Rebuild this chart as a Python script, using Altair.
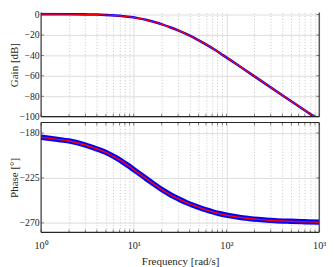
import altair as alt
import pandas as pd

# ---- data ----
freq_gain = [1, 2, 3, 4, 5, 6.26, 7.7, 9.3, 11.3, 13.8, 17, 20.5, 25, 30.5, 38.7,
             48, 60, 75, 92.5, 130, 195, 415, 880, 1000]
gain_db = [0.4, 0.3, 0.15, -0.05, -0.45, -1.0, -1.68, -2.5, -3.77, -5.42, -7.6, -9.9,
           -12.65, -15.75, -20.0, -24.3, -29.2, -34.5, -40.0, -48.9, -59.8, -80.0,
           -100.0, -103.4]

freq_phase = [1, 1.5, 2, 3, 4, 5, 6.2, 7.4, 8.7, 10, 11.8, 13.8, 16.5, 20.5, 25, 30.5,
              37, 45, 55, 67, 82, 100, 150, 220, 330, 490, 700, 1000]
phase_deg = [-184.3, -186.4, -188.0, -192.0, -196.0, -199.4, -204.0, -208.2, -212.6,
             -216.7, -221.5, -226.1, -231.2, -237.2, -242.0, -246.1, -249.75, -252.8,
             -255.8, -258.2, -260.5, -262.3, -264.9, -266.5, -267.7, -268.4, -268.9,
             -269.3]

x_ticks = [1, 2, 3, 4, 5, 6, 7, 8, 9, 10, 20, 30, 40, 50, 60, 70, 80, 90,
           100, 200, 300, 400, 500, 600, 700, 800, 900, 1000]
x_labels = {1: "10⁰", 10: "10¹", 100: "10²", 1000: "10³"}
gain_ticks = [-100, -80, -60, -40, -20, 0]
phase_ticks = [-270, -225, -180]
gain_domain = [-100, 1.9]
phase_domain = [-279.5, -169.5]

# ---- styling ----
W = 286
HG = 107
HP = 113
FONT = "Liberation Serif"
INK = "#262626"
BLUE = "#0000ff"
RED = "#ff0000"
TK = 3  # inward tick length

major_test = "datum.value == 1 || datum.value == 10 || datum.value == 100 || datum.value == 1000"
label_expr = " : ".join(
    [f"datum.value == {k} ? '{v}'" for k, v in x_labels.items()]
) + " : ''"

gain_df = pd.DataFrame({"f": freq_gain, "v": gain_db})
phase_df = pd.DataFrame({"f": freq_phase, "v": phase_deg})
xt_df = pd.DataFrame({"f": x_ticks})
one_df = pd.DataFrame({"k": [0]})


def x_enc(show_labels):
    common = dict(
        values=x_ticks,
        grid=True,
        gridColor={"condition": {"test": major_test, "value": "#dcdcdc"}, "value": "#c4c4c4"},
        gridDash={"condition": {"test": major_test, "value": []}, "value": [1, 2]},
        gridWidth=1,
        ticks=False,
        domain=False,
        labelOverlap=False,
        labelFlush=False,
        labelBound=False,
    )
    if show_labels:
        axis = alt.Axis(labelExpr=label_expr, labelPadding=9, labelFontSize=10.5,
                        titlePadding=5, title="Frequency [rad/s]", **common)
    else:
        axis = alt.Axis(labels=False, title=None, **common)
    return alt.X("f:Q", scale=alt.Scale(type="log", domain=[1, 1000], nice=False), axis=axis)


def y_enc(domain, values, title):
    return alt.Y(
        "v:Q",
        scale=alt.Scale(domain=domain, nice=False, zero=False),
        axis=alt.Axis(values=values, grid=True, gridColor="#dcdcdc", gridWidth=1,
                      ticks=False, domain=False, labelPadding=2, titlePadding=0,
                      title=title),
    )


def panel(df, domain, yvals, title, H, show_x, blue_w, red_w, top_frame):
    X = x_enc(show_x)
    Y = y_enc(domain, yvals, title)
    blue = alt.Chart(df).mark_line(color=BLUE, strokeWidth=blue_w, clip=True,
                                   interpolate="monotone").encode(x=X, y=Y)
    red = alt.Chart(df).mark_line(color=RED, strokeWidth=red_w, clip=True,
                                  interpolate="monotone").encode(x=X, y=Y)
    tick_x = alt.Chart(xt_df).mark_tick(orient="vertical", size=TK, thickness=0.8,
                                        color=INK)
    yt_df = pd.DataFrame({"v": yvals})
    tick_y = alt.Chart(yt_df).mark_tick(orient="horizontal", size=TK, thickness=0.8,
                                        color=INK)
    frame = alt.Chart(one_df).mark_rule(color=INK, strokeWidth=1.1)
    layers = [
        tick_x.encode(x=X, y=alt.value(H - TK / 2)),
        tick_y.encode(y=Y, x=alt.value(TK / 2)),
        tick_y.encode(y=Y, x=alt.value(W - TK / 2)),
        blue,
        red,
        frame.encode(x=alt.value(0), y=alt.value(0), y2=alt.value(H)),
        frame.encode(x=alt.value(W), y=alt.value(0), y2=alt.value(H)),
        frame.encode(x=alt.value(0), x2=alt.value(W), y=alt.value(H)),
    ]
    if top_frame:
        layers.append(tick_x.encode(x=X, y=alt.value(TK / 2)))
        layers.append(frame.encode(x=alt.value(0), x2=alt.value(W), y=alt.value(0)))
    return alt.layer(*layers).properties(width=W, height=H)


top = panel(gain_df, gain_domain, gain_ticks, "Gain [dB]", HG, False, 2.6, 1.2, False)
bottom = panel(phase_df, phase_domain, phase_ticks, "Phase [°]", HP, True, 5.5, 1.5, True)

chart = alt.vconcat(
    top, bottom, spacing=6, bounds="flush",
    padding={"left": 0, "top": -3, "right": 0, "bottom": 0},
).configure_view(
    strokeWidth=0
).configure_axis(
    labelFont=FONT, titleFont=FONT, labelColor=INK, titleColor=INK,
    labelFontSize=10, titleFontSize=11.3, titleFontWeight="normal"
)

chart.save("out.html", embed_options={"renderer": "svg", "actions": False})
